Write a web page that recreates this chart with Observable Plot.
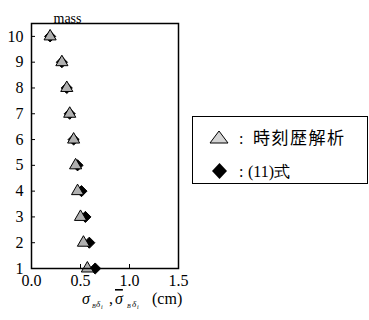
<!DOCTYPE html>
<html>
<head>
<meta charset="utf-8">
<script src="https://cdn.jsdelivr.net/npm/d3@7"></script>
<script src="https://cdn.jsdelivr.net/npm/@observablehq/plot@0.6"></script>
<style>
  html, body { margin: 0; padding: 0; background: white; }
</style>
</head>
<body>
<div id="chart"></div>
<script>
const mass = [10, 9, 8, 7, 6, 5, 4, 3, 2, 1];
const timeHistory = [0.19, 0.31, 0.36, 0.39, 0.43, 0.45, 0.47, 0.50, 0.53, 0.57];
const formula11 = [0.19, 0.31, 0.36, 0.39, 0.43, 0.47, 0.51, 0.55, 0.59, 0.65];
const yTicks = [1, 2, 3, 4, 5, 6, 7, 8, 9, 10];
const xTicks = [0, 0.5, 1.0, 1.5];
const legendLabels = ["時刻歴解析", "(11)式"];

const rows = mass.map((m, i) => ({mass: m, th: timeHistory[i], f: formula11[i]}));

const serif = "Liberation Serif";

const plot = Plot.plot({
  width: 369,
  height: 320,
  marginLeft: 31,
  marginRight: 191,
  marginTop: 23,
  marginBottom: 52,
  x: {domain: [0, 1.5]},
  y: {domain: [1, 10.5]},
  style: {fontFamily: serif, fontSize: "16px", background: "white", color: "black"},
  marks: [
    Plot.axisY(yTicks, {tickSize: 0, tickPadding: 8, label: null, fontSize: 16, fontFamily: serif}),
    Plot.axisY(yTicks, {tickSize: 4, dx: 4, tickFormat: () => "", label: null}),
    Plot.axisX(xTicks, {tickSize: 0, tickPadding: 6, label: null, fontSize: 16, fontFamily: serif, tickFormat: d => d.toFixed(1)}),
    Plot.axisX([0.5, 1.0], {tickSize: 4, dy: -4, tickFormat: () => "", label: null}),
    Plot.dot(rows, {x: "f", y: "mass", symbol: "diamond2", r: 5, fill: "black", stroke: "black", strokeWidth: 1}),
    Plot.dot(rows, {x: "th", y: "mass", symbol: "triangle", r: 4.5, fill: "#b0b0b0", stroke: "black", strokeWidth: 1}),
    Plot.frame({stroke: "black", strokeWidth: 1.5}),
    Plot.text(["mass"], {frameAnchor: "top-left", dx: 22, dy: -10, fontSize: 14, fontFamily: serif})
  ]
});

const svg = d3.select(plot);

// x-axis label
const xl = svg.append("text")
  .attr("y", 304)
  .attr("text-anchor", "start")
  .attr("font-family", serif)
  .attr("font-size", 16)
  .attr("fill", "black");
xl.append("tspan").attr("x", 82).attr("font-style", "italic").text("σ");
xl.append("tspan").attr("x", 92).attr("y", 308).attr("font-size", 6).attr("font-style", "italic").text("B");
xl.append("tspan").attr("x", 96).attr("y", 307).attr("font-size", 9).attr("font-style", "italic").text("δ");
xl.append("tspan").attr("x", 101).attr("y", 309).attr("font-size", 6).attr("font-style", "italic").text("i");
xl.append("tspan").attr("x", 109).attr("y", 304).text(",");
xl.append("tspan").attr("x", 115).attr("y", 304).attr("font-style", "italic").style("text-decoration", "overline").text("σ");
xl.append("tspan").attr("x", 127).attr("y", 308).attr("font-size", 6).attr("font-style", "italic").text("B");
xl.append("tspan").attr("x", 132).attr("y", 307).attr("font-size", 9).attr("font-style", "italic").text("δ");
xl.append("tspan").attr("x", 137).attr("y", 309).attr("font-size", 6).attr("font-style", "italic").text("i");
xl.append("tspan").attr("x", 152).attr("y", 304).text("(cm)");

// legend
const lg = svg.append("g").attr("text-anchor", "start");
lg.append("rect").attr("x", 192.5).attr("y", 116.5).attr("width", 175).attr("height", 67)
  .attr("fill", "white").attr("stroke", "black").attr("stroke-width", 1);
lg.append("path")
  .attr("d", "M219,131 L228,143 L210,143 Z")
  .attr("fill", "#d4d4d4").attr("stroke", "black").attr("stroke-width", 1);
lg.append("path")
  .attr("d", "M219.5,163 L227,171 L219.5,179 L212,171 Z")
  .attr("fill", "black");
const t1 = lg.append("text").attr("x", 239).attr("y", 144).attr("font-size", 16).attr("fill", "black").attr("text-anchor", "start");
t1.append("tspan").attr("font-family", serif).text(":");
t1.append("tspan").attr("font-family", "Noto Sans CJK JP").attr("font-size", 17).attr("letter-spacing", 1.5).attr("x", 253).text(legendLabels[0]);
const t2 = lg.append("text").attr("x", 239).attr("y", 177).attr("font-size", 16).attr("fill", "black").attr("font-family", serif).attr("text-anchor", "start");
t2.append("tspan").text(":");
t2.append("tspan").attr("x", 248).text(legendLabels[1]);

document.getElementById("chart").appendChild(plot);
</script>
</body>
</html>
